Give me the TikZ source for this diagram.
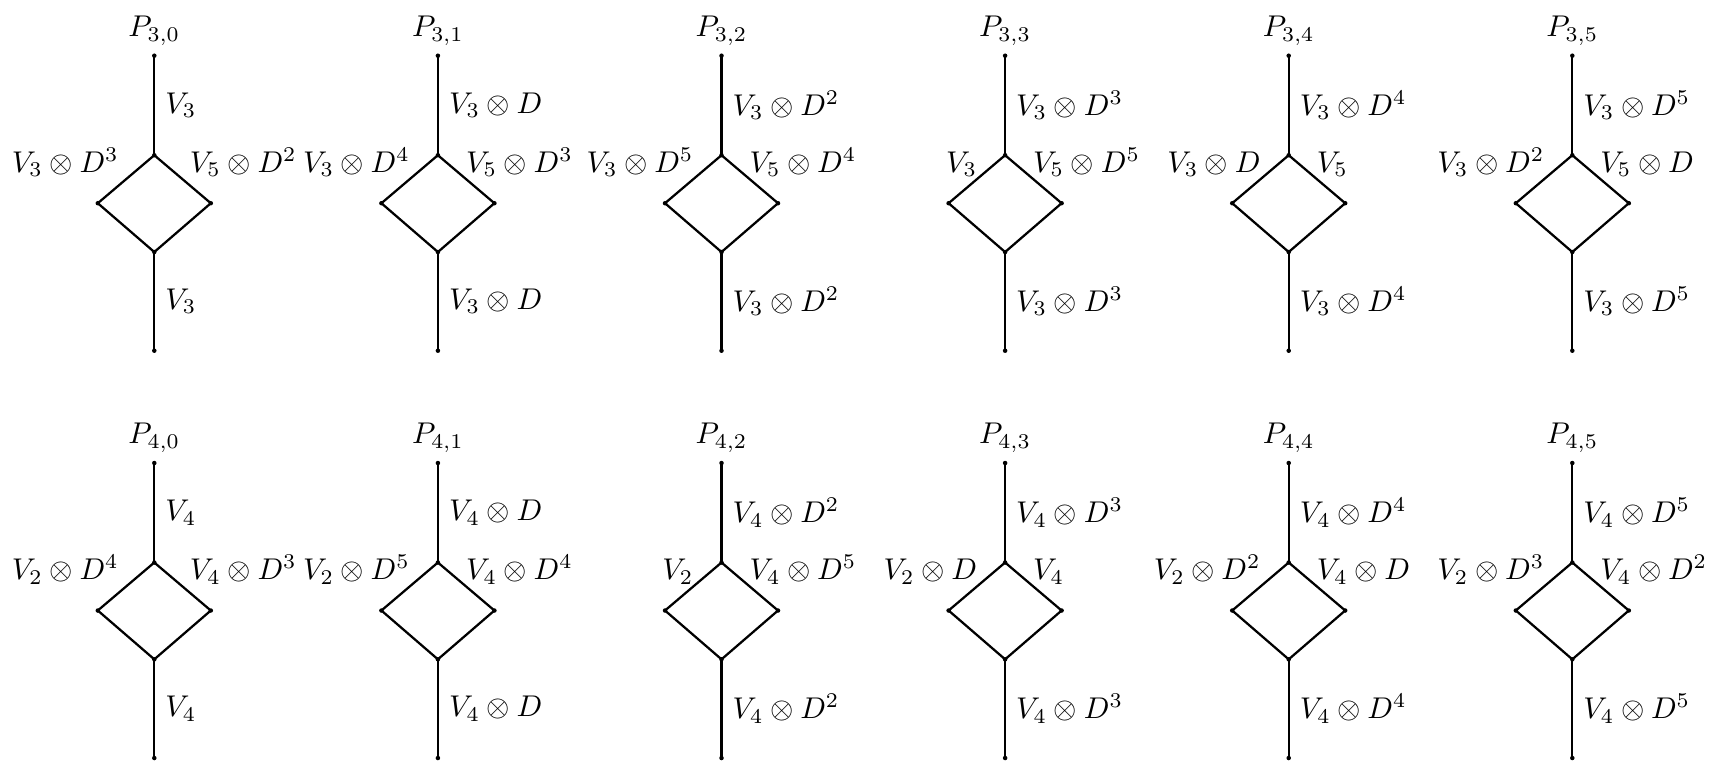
\documentclass[tikz,border=0pt]{standalone}
\tikzset{
  dot/.style={circle,fill,inner sep=0pt,minimum size=1.5pt},
  wire/.style={line width=0.75pt},
  lbl/.style={inner sep=0pt},
}
% #1 name, #2 X, #3 Y, #4 P, #5 top, #6 left, #7 right, #8 bottom, #9 side offset
\newcommand\dcell[9]{%
  \node[dot] (#1t) at (#2,#3) {};
  \node[dot] (#1a) at (#2,#3+99.5) {};
  \node[dot] (#1l) at (#2-56.5,#3+147.5) {};
  \node[dot] (#1r) at (#2+56.5,#3+147.5) {};
  \node[dot] (#1b) at (#2,#3+196.3) {};
  \node[dot] (#1e) at (#2,#3+295) {};
  \node[above] (#1p) at (#1t) {$#4$};
  \draw[wire] (#1t.center) -- node[right] (#1up) {$#5$} (#1a.center);
  \draw[wire,line join=miter] (#1a.center) -- (#1l.center) -- (#1b.center) -- (#1r.center) -- cycle;
  \draw[wire] (#1b.center) -- node[right] (#1dn) {$#8$} (#1e.center);
  \node[lbl,anchor=base east] (#1lt) at (#2-#9,#3+116.5) {$#6$};
  \node[lbl,anchor=base west] (#1rt) at (#2+#9,#3+116.5) {$#7$};
}
\begin{document}
\begin{tikzpicture}[x=0.333333pt,y=-0.333333pt]
\useasboundingbox (0,0) rectangle (1710,761);
% row 1
\dcell{a0}{154.3}{55.7}{P_{3,0}}{V_3}{V_3\otimes D^3}{V_5\otimes D^2}{V_3}{35}
\dcell{a1}{437.9}{55.7}{P_{3,1}}{V_3\otimes D}{V_3\otimes D^4}{V_5\otimes D^3}{V_3\otimes D}{27.5}
\dcell{a2}{721.5}{55.7}{P_{3,2}}{V_3\otimes D^2}{V_3\otimes D^5}{V_5\otimes D^4}{V_3\otimes D^2}{27.5}
\dcell{a3}{1005.1}{55.7}{P_{3,3}}{V_3\otimes D^3}{V_3}{V_5\otimes D^5}{V_3\otimes D^3}{27.5}
\dcell{a4}{1288.7}{55.7}{P_{3,4}}{V_3\otimes D^4}{V_3\otimes D}{V_5}{V_3\otimes D^4}{27.5}
\dcell{a5}{1572.3}{55.7}{P_{3,5}}{V_3\otimes D^5}{V_3\otimes D^2}{V_5\otimes D}{V_3\otimes D^5}{27.5}
% row 2
\dcell{b0}{154.3}{463}{P_{4,0}}{V_4}{V_2\otimes D^4}{V_4\otimes D^3}{V_4}{35}
\dcell{b1}{437.9}{463}{P_{4,1}}{V_4\otimes D}{V_2\otimes D^5}{V_4\otimes D^4}{V_4\otimes D}{27.5}
\dcell{b2}{721.5}{463}{P_{4,2}}{V_4\otimes D^2}{V_2}{V_4\otimes D^5}{V_4\otimes D^2}{27.5}
\dcell{b3}{1005.1}{463}{P_{4,3}}{V_4\otimes D^3}{V_2\otimes D}{V_4}{V_4\otimes D^3}{27.5}
\dcell{b4}{1288.7}{463}{P_{4,4}}{V_4\otimes D^4}{V_2\otimes D^2}{V_4\otimes D}{V_4\otimes D^4}{27.5}
\dcell{b5}{1572.3}{463}{P_{4,5}}{V_4\otimes D^5}{V_2\otimes D^3}{V_4\otimes D^2}{V_4\otimes D^5}{27.5}
\end{tikzpicture}
\end{document}
